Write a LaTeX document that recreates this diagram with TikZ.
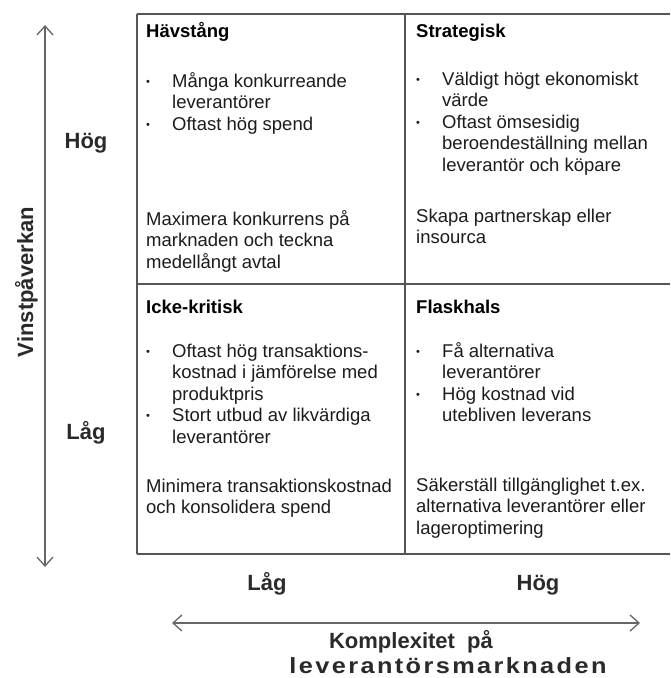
\documentclass[tikz,border=0pt]{standalone}
\usepackage{fontspec}
\setmainfont{Liberation Sans}
\usetikzlibrary{arrows.meta}
\definecolor{gridc}{HTML}{555555}
\definecolor{txt}{HTML}{1C1C1C}
\definecolor{arr}{HTML}{666666}
\definecolor{axtxt}{HTML}{2A2A2A}
\newcommand{\bodyfont}{\fontsize{18.5}{21.5}\selectfont}
\newcommand{\titlefont}{\fontsize{18.5}{21}\selectfont\bfseries}
\newcommand{\axfont}{\fontsize{22}{25}\selectfont\bfseries}
\newcommand{\bul}{\raisebox{1.6pt}{\fontsize{11}{11}\selectfont\textbullet}}
\newcommand{\blist}[1]{\begin{tabular}[t]{@{}p{26pt}@{}l@{}}#1\end{tabular}}
\newcommand{\para}[1]{\begin{tabular}[t]{@{}l@{}}#1\end{tabular}}
\tikzset{
  body/.style={inner sep=0pt, anchor=base west, font=\bodyfont, text=txt},
  ttl/.style={inner sep=0pt, anchor=base west, font=\titlefont, text=black},
  ax/.style={inner sep=0pt, anchor=base, font=\axfont, text=axtxt},
  gridline/.style={draw=gridc, line width=1.4pt},
  axarrow/.style={draw=arr, line width=1.3pt,
    {Straight Barb[length=9pt,width=16pt]}-{Straight Barb[length=9pt,width=16pt]}}
}
\begin{document}
\begin{tikzpicture}[x=1pt,y=-1pt]
\fill[white] (0,0) rectangle (670,678);
\useasboundingbox (0,0) rectangle (670,678);

% grid
\draw[gridline] (137,14) -- (670,14);
\draw[gridline] (137,284) -- (670,284);
\draw[gridline] (137,554) -- (670,554);
\draw[gridline] (137,14) -- (137,554);
\draw[gridline] (405,14) -- (405,554);

% top-left
\node[ttl] (t1) at (146,37) {Hävstång};
\node[body] (b1) at (146,87) {\blist{\bul & Många konkurreande\\ & leverantörer\\ \bul & Oftast hög spend}};
\node[body] (p1) at (146,225) {\para{Maximera konkurrens på\\marknaden och teckna\\medellångt avtal}};

% top-right
\node[ttl] (t2) at (416,37) {Strategisk};
\node[body] (b2) at (416,85) {\blist{\bul & Väldigt högt ekonomiskt\\ & värde\\ \bul & Oftast ömsesidig\\ & beroendeställning mellan\\ & leverantör och köpare}};
\node[body] (p2) at (416,222) {\para{Skapa partnerskap eller\\insourca}};

% bottom-left
\node[ttl] (t3) at (146,313) {Icke-kritisk};
\node[body] (b3) at (146,357) {\blist{\bul & Oftast hög transaktions-\\ & kostnad i jämförelse med\\ & produktpris\\ \bul & Stort utbud av likvärdiga\\ & leverantörer}};
\node[body] (p3) at (146,492) {\para{Minimera transaktionskostnad\\och konsolidera spend}};

% bottom-right
\node[ttl] (t4) at (416,313) {Flaskhals};
\node[body] (b4) at (416,357) {\blist{\bul & Få alternativa\\ & leverantörer\\ \bul & Hög kostnad vid\\ & utebliven leverans}};
\node[body] (p4) at (416,491) {\para{Säkerställ tillgänglighet t.ex.\\alternativa leverantörer eller\\lageroptimering}};

% axis labels
\node[ax] (yh) at (86,148) {Hög};
\node[ax] (yl) at (86,439) {Låg};
\node[ax] (xl) at (267,590) {Låg};
\node[ax] (xh) at (538,590) {Hög};
\node[ax, rotate=90] (ylab) at (33,282) {Vinstpåverkan};
\node[ax] (xlab1) at (411,648) {Komplexitet\ \ på};
\node[ax, xscale=1.15] (xlab2) at (448,673) {\addfontfeature{LetterSpace=9.5}leverantörsmarknaden};

% arrows
\coordinate (vt) at (45,25);
\coordinate (vb) at (45,567);
\coordinate (hl) at (172,623);
\coordinate (hr) at (640,623);
\draw[axarrow] (vb) -- (vt);
\draw[axarrow] (hl) -- (hr);
\end{tikzpicture}
\end{document}
